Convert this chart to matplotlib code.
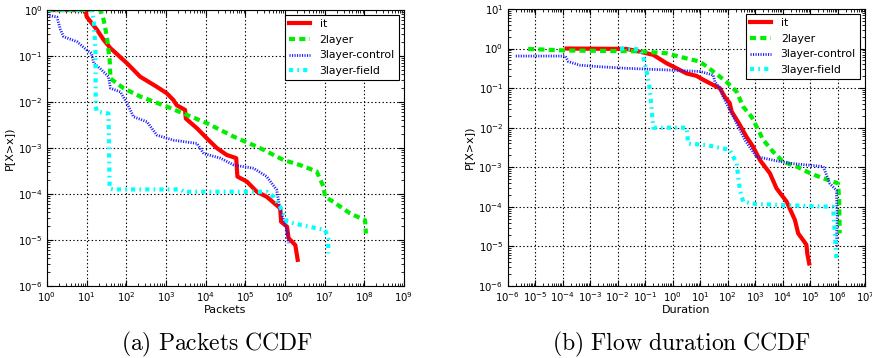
import numpy as np
import matplotlib
matplotlib.use('Agg')
import matplotlib.pyplot as plt
from matplotlib.ticker import LogLocator, LogFormatterSciNotation, NullFormatter

# values as log10 exponents (x, y)
# ---- (a) packets CCDF ----
pk_it_x = [0.0, 0.97, 1.0, 1.26, 1.43, 1.6, 2.02, 2.35, 2.77, 3.02, 3.19, 3.27, 3.48, 3.5,
           3.78, 4.03, 4.28, 4.53, 4.77, 4.8, 5.04, 5.29, 5.54, 5.88, 5.9, 6.05, 6.09, 6.26, 6.32]
pk_it_y = [0.0, 0.0, -0.145, -0.43, -0.65, -0.83, -1.16, -1.45, -1.67, -1.81, -1.96, -2.07, -2.17, -2.36,
           -2.57, -2.79, -3.0, -3.15, -3.22, -3.62, -3.73, -3.95, -4.06, -4.31, -4.6, -4.71, -4.96, -5.11, -5.43]

pk_2l_x = [0.0, 1.35, 1.43, 1.51, 1.58, 1.6, 1.93, 2.35, 3.02, 3.53, 4.03, 4.7, 5.37, 5.96,
           6.38, 6.8, 6.97, 7.01, 7.22, 7.64, 8.02, 8.04]
pk_2l_y = [0.0, 0.0, -0.22, -0.58, -1.09, -1.49, -1.70, -1.88, -2.10, -2.28, -2.46, -2.75, -3.0, -3.26,
           -3.37, -3.51, -3.84, -4.06, -4.17, -4.42, -4.57, -4.86]

pk_3c_x = [0.0, 0.25, 0.34, 0.42, 0.76, 1.0, 1.12, 1.18, 1.34, 1.55, 1.6, 1.85, 2.02, 2.18, 2.52,
           2.77, 3.19, 3.78, 3.95, 4.37, 4.71, 5.21, 5.54, 5.79, 5.88, 6.05, 6.09]
pk_3c_y = [-0.11, -0.15, -0.43, -0.58, -0.69, -0.87, -0.94, -1.16, -1.27, -1.45, -1.70, -1.78, -2.03, -2.32, -2.43,
           -2.72, -2.83, -2.90, -3.12, -3.22, -3.37, -3.44, -3.62, -3.91, -4.35, -4.78, -5.07]

pk_3f_x = [0.0, 1.13, 1.18, 1.22, 1.23, 1.26, 1.55, 1.58, 1.68, 3.36, 3.45, 5.54, 5.71, 5.88,
           6.05, 6.38, 7.01, 7.09, 7.09]
pk_3f_y = [0.0, 0.0, -0.22, -0.87, -2.10, -2.21, -2.25, -3.88, -3.9, -3.9, -3.95, -3.95, -4.06, -4.28,
           -4.6, -4.67, -4.78, -4.96, -5.29]

# ---- (b) flow duration CCDF ----
du_it_x = [-3.85, -1.67, -1.19, -0.70, -0.22, 0.15, 0.51, 0.87, 1.12, 1.48, 1.72, 1.90, 2.08, 2.15,
           2.45, 2.69, 2.93, 3.18, 3.54, 3.78, 4.15, 4.45, 4.57, 4.75, 4.87, 4.9, 4.97]
du_it_y = [0.0, -0.01, -0.08, -0.16, -0.37, -0.5, -0.63, -0.69, -0.79, -0.92, -1.0, -1.22, -1.38, -1.59,
           -1.93, -2.23, -2.48, -2.82, -3.15, -3.53, -3.87, -4.33, -4.67, -4.84, -4.96, -5.18, -5.43]

du_2l_x = [-5.25, -3.85, -1.19, -0.22, 0.51, 1.0, 1.48, 1.96, 2.33, 2.57, 2.87, 3.12, 3.3, 3.66,
           4.02, 4.51, 5.0, 5.48, 5.84, 6.02, 6.06, 6.08]
du_2l_y = [-0.01, -0.05, -0.07, -0.12, -0.25, -0.33, -0.58, -0.84, -1.09, -1.47, -1.72, -2.06, -2.31, -2.61,
           -2.86, -2.98, -3.15, -3.28, -3.36, -3.41, -3.83, -4.67]

du_3c_x = [-5.7, -3.9, -3.79, -3.37, -2.64, -1.67, -0.22, 1.0, 1.48, 1.54, 1.72, 1.84, 2.08, 2.39,
           2.63, 3.05, 3.66, 4.27, 4.87, 5.48, 5.72, 5.96, 5.99, 5.96]
du_3c_y = [-0.19, -0.19, -0.33, -0.42, -0.46, -0.5, -0.54, -0.58, -0.67, -0.84, -1.0, -1.22, -1.55, -1.97,
           -2.31, -2.73, -2.82, -2.9, -2.94, -2.98, -3.41, -3.58, -4.25, -5.0]

du_3f_x = [-1.91, -1.19, -1.07, -0.95, -0.82, -0.70, 0.51, 0.57, 1.24, 2.08, 2.33, 2.45, 2.57, 3.05,
           5.84, 5.96]
du_3f_y = [0.0, -0.02, -0.2, -0.54, -1.05, -2.0, -2.0, -2.4, -2.44, -2.56, -2.9, -3.57, -3.87, -3.93,
           -4.0, -5.3]

labels = ['it', '2layer', '3layer-control', '3layer-field']
colors = ['r', '#00ee00', '#1a1aff', 'cyan']
dashes = [None, (4.4, 3.0), (0.8, 1.0), (3.0, 3.0, 1.2, 3.0)]
widths = [3, 3, 2, 3]

plt.rcParams['mathtext.fontset'] = 'cm'
plt.rcParams['lines.scale_dashes'] = False

fig = plt.figure(figsize=(8.72, 3.58), dpi=100)
ax1 = fig.add_axes([0.0539, 0.201, 0.4094, 0.771])
ax2 = fig.add_axes([0.582, 0.201, 0.410, 0.774])


def draw(ax, series, xlabel, xlim, ylim):
    for (xs, ys), lab, c, d, lw in zip(series, labels, colors, dashes, widths):
        line, = ax.plot(10.0 ** np.array(xs), 10.0 ** np.array(ys), '-', color=c, lw=lw, label=lab)
        if d is not None:
            line.set_dashes(d)
            line.set_dash_capstyle('butt')
    ax.set_xscale('log')
    ax.set_yscale('log')
    ax.set_xlim(*xlim)
    ax.set_ylim(*ylim)
    for axis in (ax.xaxis, ax.yaxis):
        axis.set_major_locator(LogLocator(base=10, numticks=30))
        axis.set_major_formatter(LogFormatterSciNotation())
        axis.set_minor_locator(LogLocator(base=10, subs=np.arange(2, 10), numticks=30))
        axis.set_minor_formatter(NullFormatter())
    ax.tick_params(which='both', direction='in', top=True, right=True, labelsize=7.3)
    ax.tick_params(which='major', length=4, pad=3)
    ax.tick_params(which='minor', length=2)
    ax.grid(True, which='major', color='k', linestyle=':', linewidth=0.8)
    ax.set_xlabel(xlabel, fontsize=8, labelpad=1)
    ax.set_ylabel('P[X>x])', fontsize=8, labelpad=3)
    leg = ax.legend(loc='upper right', fontsize=7.8, fancybox=False, framealpha=1,
                    edgecolor='k', handlelength=1.9, handletextpad=0.9,
                    borderaxespad=0.45, labelspacing=0.52, borderpad=0.4)
    leg.get_frame().set_linewidth(0.8)


draw(ax1, [(pk_it_x, pk_it_y), (pk_2l_x, pk_2l_y), (pk_3c_x, pk_3c_y), (pk_3f_x, pk_3f_y)],
     'Packets', (1, 1e9), (1e-6, 1))
draw(ax2, [(du_it_x, du_it_y), (du_2l_x, du_2l_y), (du_3c_x, du_3c_y), (du_3f_x, du_3f_y)],
     'Duration', (1e-6, 1e7), (1e-6, 10))

fig.text(0.249, 0.039, r'$\mathrm{(a)\ Packets\ CCDF}$', ha='center', va='center', fontsize=17)
fig.text(0.782, 0.039, r'$\mathrm{(b)\ Flow\ duration\ CCDF}$', ha='center', va='center', fontsize=17)

fig.savefig('out.png', dpi=100)
